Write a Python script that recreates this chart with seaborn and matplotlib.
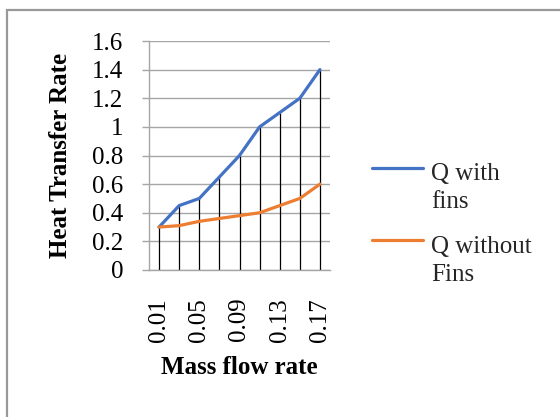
import matplotlib
matplotlib.use("Agg")
import matplotlib.pyplot as plt
from matplotlib.legend_handler import HandlerLine2D
from matplotlib.patches import Rectangle
import seaborn as sns
import pandas as pd
import numpy as np

# ---- data ----
mass_flow = ["0.01", "0.03", "0.05", "0.07", "0.09", "0.11", "0.13", "0.15", "0.17"]
q_with_fins = [0.30, 0.45, 0.50, 0.65, 0.80, 1.00, 1.10, 1.20, 1.40]
q_without_fins = [0.30, 0.31, 0.34, 0.36, 0.38, 0.40, 0.45, 0.50, 0.60]
series_names = ["Q with\nfins", "Q without\nFins"]
y_ticks = [0, 0.2, 0.4, 0.6, 0.8, 1, 1.2, 1.4, 1.6]
y_tick_labels = ["0", "0.2", "0.4", "0.6", "0.8", "1", "1.2", "1.4", "1.6"]

df = pd.DataFrame({
    "Mass flow rate": mass_flow * 2,
    "Q": q_with_fins + q_without_fins,
    "series": [series_names[0]] * len(mass_flow) + [series_names[1]] * len(mass_flow),
})

sns.set_theme(style="white")
plt.rcParams["font.family"] = ["Liberation Serif", "DejaVu Serif"]

FS = 18
GRID = "#a6a6a6"

fig = plt.figure(figsize=(5.6, 4.17), dpi=100)
ax = fig.add_axes([149/560, 1 - 270/417, 181/560, 229/417])

# drop lines from the "with fins" series
xpos = np.arange(len(mass_flow))
ax.vlines(xpos, 0, q_with_fins, colors="black", linewidth=0.9, zorder=2)

sns.lineplot(data=df, x="Mass flow rate", y="Q", hue="series",
             palette=["#4472C4", "#ED7D31"], linewidth=2.3, sort=False,
             ax=ax, zorder=3)

ax.set_xlim(-0.5, len(mass_flow) - 0.5)
ax.set_ylim(0, 1.6)
ax.set_yticks(y_ticks)
ax.set_yticklabels(y_tick_labels)
ax.set_xticks(xpos[::2])
ax.set_xticklabels(mass_flow[::2], rotation=90)
ax.yaxis.grid(True, color=GRID, linewidth=1.0)
ax.xaxis.grid(False)
ax.set_axisbelow(True)

for s in ["top", "right"]:
    ax.spines[s].set_visible(False)
for s in ["left", "bottom"]:
    ax.spines[s].set_color(GRID)
    ax.spines[s].set_linewidth(1.0)

ax.tick_params(axis="y", which="both", left=True, length=5, width=1.0,
               color=GRID, pad=13.5, labelsize=FS, labelcolor="black")
ax.tick_params(axis="x", which="both", bottom=False, length=0, pad=20,
               labelsize=FS, labelcolor="black")

ax.set_xlabel("Mass flow rate", fontsize=FS, fontweight="bold", color="black")
ax.set_ylabel("Heat Transfer Rate", fontsize=FS, fontweight="bold", color="black")
ax.xaxis.set_label_coords(0.5, -0.375)
ax.yaxis.set_label_coords(-0.425, 0.5)


class UpHandler(HandlerLine2D):
    def create_artists(self, legend, orig_handle, xdescent, ydescent,
                       width, height, fontsize, trans):
        shift = fontsize * 1.6
        return super().create_artists(legend, orig_handle, xdescent,
                                      ydescent - shift, width, height,
                                      fontsize, trans)


handles, labels = ax.get_legend_handles_labels()
if ax.legend_:
    ax.legend_.remove()
leg = ax.legend(handles, labels, loc="upper left",
                bbox_to_anchor=(372/560, 1 - 163/417),
                bbox_transform=fig.transFigure, frameon=False,
                fontsize=FS, handlelength=2.05, handletextpad=0.3,
                borderpad=0, borderaxespad=0, labelspacing=0.9,
                handler_map={h: UpHandler() for h in handles})
for t in leg.get_texts():
    t.set_linespacing(1.36)
for h in leg.get_lines():
    h.set_linewidth(2.3)

# chart-area border (cropped at right/bottom)
fig.patches.append(Rectangle((7/560, -0.1), 1.2, 1 - 10/417 + 0.1,
                             transform=fig.transFigure, fill=False,
                             edgecolor="#999999", linewidth=1.6))

fig.savefig("out.png", dpi=100)
